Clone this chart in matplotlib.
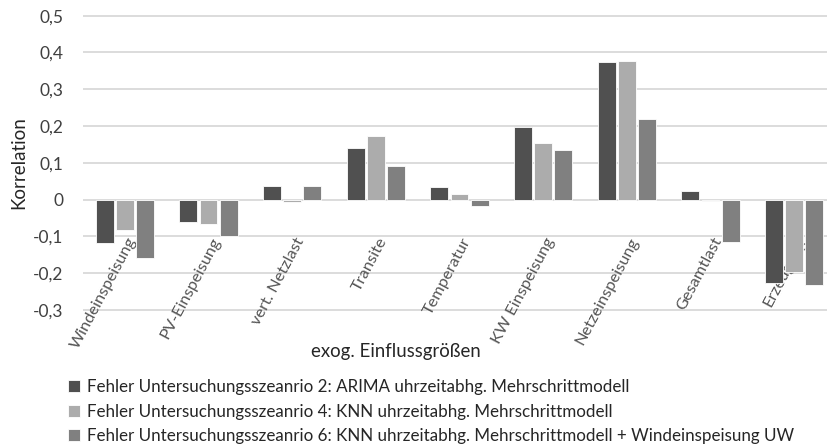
import numpy as np
import matplotlib
matplotlib.use("Agg")
import matplotlib.pyplot as plt
from matplotlib.ticker import FuncFormatter, MultipleLocator

plt.rcParams["font.family"] = ["Lato", "DejaVu Sans"]

# data
categories = ["Windeinspeisung", "PV-Einspeisung", "vert. Netzlast", "Transite",
              "Temperatur", "KW Einspeisung", "Netzeinspeisung", "Gesamtlast", "Erzeugung"]
series_names = [
    "Fehler Untersuchungsszeanrio 2: ARIMA uhrzeitabhg. Mehrschrittmodell",
    "Fehler Untersuchungsszeanrio 4: KNN uhrzeitabhg. Mehrschrittmodell",
    "Fehler Untersuchungsszeanrio 6: KNN uhrzeitabhg. Mehrschrittmodell + Windeinspeisung UW",
]
arima_s2 = [-0.118, -0.062, 0.037, 0.139, 0.034, 0.198, 0.373, 0.023, -0.227]
knn_s4 = [-0.084, -0.067, -0.007, 0.173, 0.015, 0.153, 0.376, -0.003, -0.196]
knn_s6 = [-0.159, -0.100, 0.037, 0.091, -0.017, 0.136, 0.220, -0.116, -0.233]
colors = ["#505050", "#acacac", "#808080"]

fig = plt.figure(figsize=(8.28, 4.46), dpi=100)
ax = fig.add_axes([83 / 828, 1 - 310.5 / 446, 753 / 828, 295.5 / 446])

x = np.arange(len(categories))
step = 0.24
for k, (vals, name, col) in enumerate(zip([arima_s2, knn_s4, knn_s6], series_names, colors)):
    ax.bar(x + (k - 1) * step, vals, width=0.215, color=col, edgecolor="white",
           linewidth=0.6, label=name, zorder=3)

ax.set_xlim(-0.5, len(categories) - 0.5)
ax.set_ylim(-0.302, 0.502)
ax.yaxis.set_major_locator(MultipleLocator(0.1))
ax.yaxis.set_major_formatter(FuncFormatter(
    lambda v, p: "0" if abs(v) < 1e-9 else f"{v:.1f}".replace(".", ",")))
ax.grid(axis="y", color="#d9d9d9", linewidth=1.3, zorder=0)
ax.set_axisbelow(True)
for s in ax.spines.values():
    s.set_visible(False)
ax.set_xticks([])
ax.tick_params(axis="y", length=0, pad=14, labelsize=12.5, labelcolor="#404040")

# rotated category labels, sitting inside the lower part of the plot
for i, lab in enumerate(categories):
    ax.text(i + 0.1, -0.106, lab, rotation=62, rotation_mode="anchor",
            ha="right", va="center", fontsize=11.8, color="#555555", zorder=1)

ax.set_ylabel("Korrelation", fontsize=13.5, color="#262626", labelpad=4)
ax.set_xlabel("exog. Einflussgrößen", fontsize=13.4, color="#262626")
ax.xaxis.set_label_coords(0.415, -0.11)
ax.xaxis.label.set_va("top")

ax.legend(loc="upper left", bbox_to_anchor=(68 / 828, 1 - 379 / 446),
          bbox_transform=fig.transFigure, frameon=False, fontsize=12.25,
          handlelength=0.7, handleheight=0.7, handletextpad=0.4,
          labelspacing=0.5, borderpad=0, borderaxespad=0, labelcolor="#262626")

fig.savefig("out.png", dpi=100)
